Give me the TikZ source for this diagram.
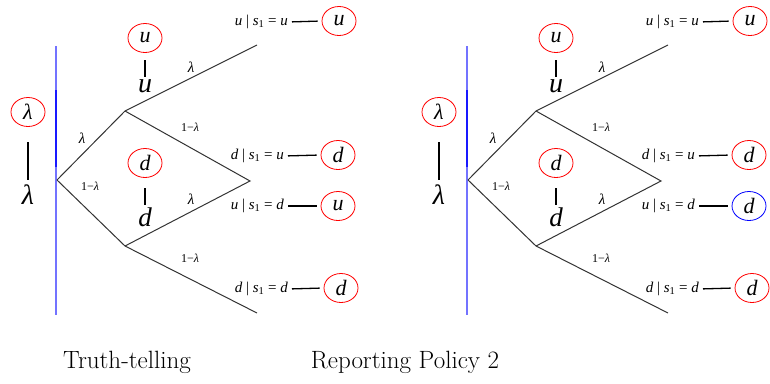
\documentclass[tikz,border=0pt]{standalone}
\usepackage{fontspec}
\newfontfamily\tms{Liberation Serif}
\usetikzlibrary{shapes.geometric}
\newcommand\cond[2]{{\tms\fontsize{15}{17}\selectfont\itshape #1\ \upshape|\ \itshape s\textsubscript{\upshape 1}\ \upshape=\ \itshape #2}}
\newcommand\drawpanel[4]{%
\begin{scope}[xshift=#2]
\draw[blueline] (56,46) -- (56,315);
\draw[blueline,draw=blue!90] (56,90) -- (56,167);
\coordinate (#1r) at (57,180);
\coordinate (#1a) at (125,111);
\coordinate (#1b) at (125,246);
\coordinate (#1uu) at (257,45);
\coordinate (#1m) at (250,181);
\coordinate (#1dd) at (257,313);
\draw[branch] (#1r) -- (#1a) -- (#1uu);
\draw[branch] (#1a) -- (#1m) -- (#1b);
\draw[branch] (#1r) -- (#1b) -- (#1dd);
\node[plbl] (#1l1) at (82,138) {λ};
\node[qlbl] (#1l2) at (90,186) {\upshape 1−\itshape λ};
\node[plbl] (#1l3) at (191,67) {λ};
\node[qlbl] (#1l4) at (190,127) {\upshape 1−\itshape λ};
\node[plbl] (#1l5) at (191,199) {λ};
\node[qlbl] (#1l6) at (190,258) {\upshape 1−\itshape λ};
% lambda
\node[oval] (#1cl) at (28,112) {\tms\fontsize{22}{24}\selectfont\itshape λ};
\coordinate (#1clt) at (28,142);
\coordinate (#1clb) at (28,180);
\node[big] (#1tl) at (28,195) {\tms\fontsize{28}{30}\selectfont\itshape λ};
\draw[stem] (#1clt) -- (#1clb);
% u
\node[oval] (#1cu) at (145,38) {\tms\fontsize{22}{24}\selectfont\itshape u};
\coordinate (#1cut) at (145,60);
\node[big] (#1tu) at (145,86) {\tms\fontsize{28}{30}\selectfont\itshape u};
\coordinate (#1cub) at (145,77);
\draw[stem] (#1cut) -- (#1cub);
% d
\node[oval] (#1cd) at (145,163) {\tms\fontsize{22}{24}\selectfont\itshape d};
\coordinate (#1cdt) at (145,188);
\coordinate (#1cdb) at (145,205);
\node[big] (#1td) at (145,217) {\tms\fontsize{27}{29}\selectfont\itshape d};
\draw[stem] (#1cdt) -- (#1cdb);
% outcomes
\node[anchor=east,inner sep=0] (#1o1) at (288,22) {\cond{u}{u}};
\node[oval] (#1e1) at (339,21) {\tms\fontsize{22}{24}\selectfont\itshape u};
\node[anchor=east,inner sep=0] (#1o2) at (284,156) {\cond{d}{u}};
\node[oval] (#1e2) at (338,155) {\tms\fontsize{22}{24}\selectfont\itshape d};
\node[anchor=east,inner sep=0] (#1o3) at (284,206) {\cond{u}{d}};
\node[oval,draw=#3] (#1e3) at (338,206) {\tms\fontsize{22}{24}\selectfont\itshape #4};
\node[anchor=east,inner sep=0] (#1o4) at (288,289) {\cond{d}{d}};
\node[oval] (#1e4) at (341,288) {\tms\fontsize{22}{24}\selectfont\itshape d};
\foreach \i in {1,2,3,4} {\draw[stem,shorten <=4pt,shorten >=4pt] (#1o\i.east) -- (#1e\i.west);}
\end{scope}}
\begin{document}
\begin{tikzpicture}[x=1pt,y=-1pt,
  blueline/.style={draw=blue!55,line width=1.1pt},
  branch/.style={draw=black!80,line width=1pt},
  stem/.style={draw=black,line width=1.3pt},
  oval/.style={ellipse,draw=red,line width=0.8pt,minimum width=34pt,minimum height=29pt,inner sep=0pt},
  big/.style={inner sep=0pt},
  plbl/.style={inner sep=0pt,font=\tms\fontsize{15}{16}\selectfont\itshape},
  qlbl/.style={inner sep=0pt,font=\tms\fontsize{12}{13}\selectfont\itshape},
  captext/.style={inner sep=0pt,anchor=base,font=\fontsize{25}{28}\selectfont}]
\useasboundingbox (0,0) rectangle (770,383);
\drawpanel{L}{0}{red}{u}
\drawpanel{R}{411}{blue}{d}
\node[captext] (capL) at (127,368) {Truth-telling};
\node[captext] (capR) at (405,368) {Reporting Policy 2};
\end{tikzpicture}
\end{document}
